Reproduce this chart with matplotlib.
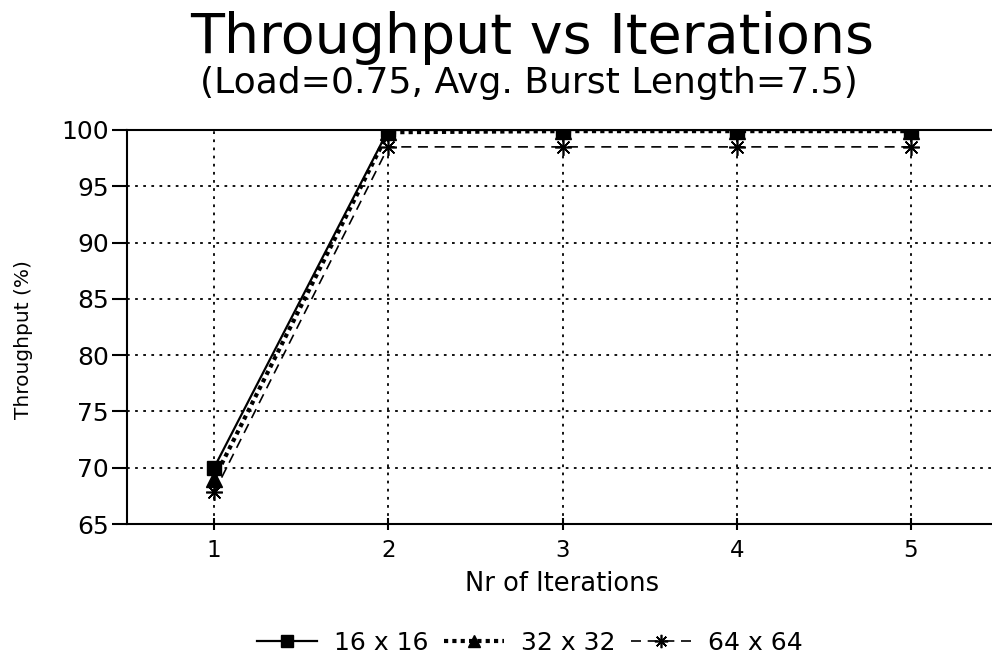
import matplotlib
matplotlib.use("Agg")
import matplotlib.pyplot as plt

iterations = [1, 2, 3, 4, 5]
s16 = [70.0, 100.0, 100.0, 100.0, 100.0]
s32 = [69.0, 99.8, 99.9, 99.9, 99.9]
s64 = [67.8, 98.5, 98.5, 98.5, 98.5]
series_labels = ["16 x 16", "32 x 32", "64 x 64"]
yticks = [65, 70, 75, 80, 85, 90, 95, 100]

plt.rcParams['font.family'] = ['DejaVu Sans']

fig = plt.figure(figsize=(9.92, 6.58), dpi=100)
ax = fig.add_axes([127/992, 134/658, 871/992, 394/658])

ax.plot(iterations, s16, color='black', linestyle='-', linewidth=1.6,
        marker='s', markersize=10, label=series_labels[0], zorder=5)
ax.plot(iterations, s32, color='black', linestyle=(0, (1, 1)), linewidth=3,
        marker='^', markersize=11, label=series_labels[1], zorder=4)
ax.plot(iterations, s64, color='black', linestyle=(0, (6, 4)), linewidth=1.2,
        marker=(8, 2, 0), markersize=12, markeredgewidth=1.2, label=series_labels[2], zorder=3)

ax.set_xlim(0.5, 5.5)
ax.set_ylim(65, 100)
ax.set_xticks(iterations)
ax.set_yticks(yticks)
ax.grid(True, color='black', linestyle=(0, (1.5, 3)), linewidth=1.3)
ax.set_axisbelow(True)
for sp in ax.spines.values():
    sp.set_linewidth(1.5)
ax.tick_params(axis='y', direction='out', length=11, width=1.5, labelsize=18, pad=2)
ax.tick_params(axis='x', direction='inout', length=8, width=1.5, labelsize=16.5, pad=7)

ax.set_xlabel("Nr of Iterations", fontsize=18.5, labelpad=6)
ax.set_ylabel("Throughput (%)", fontsize=14.5)
ax.yaxis.set_label_coords(-94/871, (524 - 340)/394)

fig.text(532/992, 1 - 53/658, "Throughput vs Iterations", ha='center', va='baseline',
         fontsize=40)
fig.text(529/992, 1 - 93/658, "(Load=0.75, Avg. Burst Length=7.5)", ha='center', va='baseline',
         fontsize=26)

fig.legend(loc='center', bbox_to_anchor=(530/992, 1 - 643/658), ncol=3, frameon=False,
           fontsize=18, handlelength=2.4, columnspacing=0.6, handletextpad=0.7,
           markerscale=0.8)

fig.savefig("out.png", dpi=100)
